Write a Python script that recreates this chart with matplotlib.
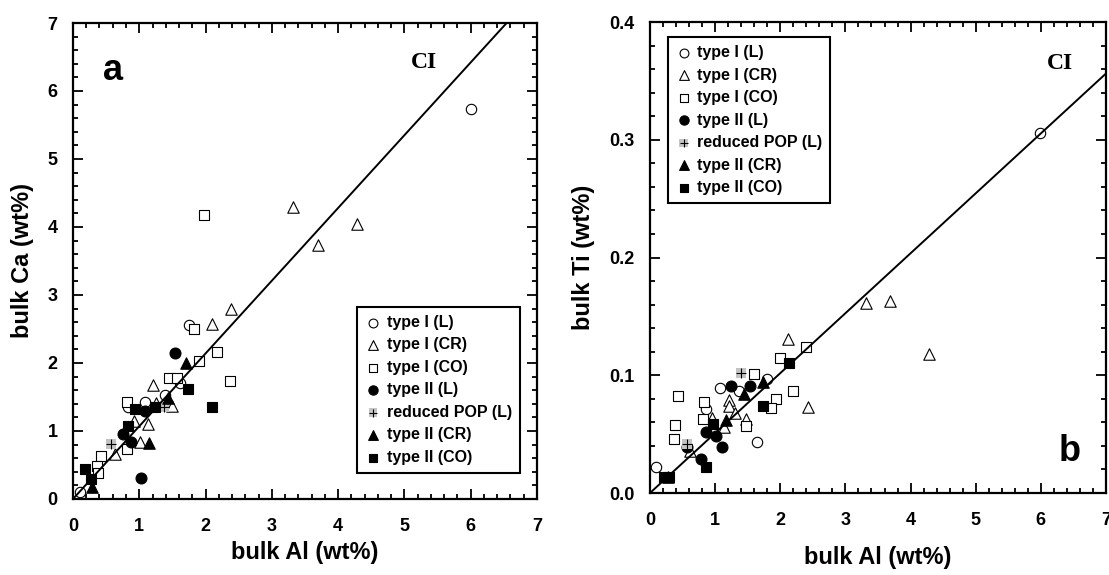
import matplotlib
matplotlib.use("Agg")
import matplotlib.pyplot as plt
import numpy as np
from matplotlib.ticker import MultipleLocator, FormatStrFormatter
from matplotlib.legend_handler import HandlerTuple

# panel a: bulk Ca vs bulk Al (wt%)
a_typeI_L_x = [6.00, 1.75, 1.08, 1.39, 0.10, 0.83, 1.62]
a_typeI_L_y = [5.74, 2.56, 1.43, 1.53, 0.10, 1.35, 1.70]
a_typeI_CR_x = [3.32, 3.70, 4.29, 2.39, 2.10, 1.21, 1.25, 1.49, 1.13, 0.92, 1.01, 0.63]
a_typeI_CR_y = [4.29, 3.74, 4.05, 2.80, 2.57, 1.68, 1.41, 1.37, 1.11, 1.14, 0.84, 0.66]
a_typeI_CO_x = [1.98, 1.83, 2.18, 1.90, 2.37, 1.45, 1.57, 0.82, 0.81, 0.43, 0.37, 0.38]
a_typeI_CO_y = [4.17, 2.50, 2.16, 2.03, 1.73, 1.78, 1.78, 1.42, 0.74, 0.63, 0.49, 0.38]
a_typeII_L_x = [1.54, 1.08, 0.76, 0.88, 1.02]
a_typeII_L_y = [2.14, 1.30, 0.96, 0.84, 0.31]
a_pop_x = [0.57, 1.38]
a_pop_y = [0.81, 1.35]
a_typeII_CR_x = [1.70, 1.44, 1.14, 0.28]
a_typeII_CR_y = [2.00, 1.48, 0.82, 0.17]
a_typeII_CO_x = [1.74, 2.10, 0.93, 1.24, 0.83, 0.18, 0.27]
a_typeII_CO_y = [1.62, 1.35, 1.32, 1.35, 1.07, 0.44, 0.30]

# panel b: bulk Ti vs bulk Al (wt%)
b_typeI_L_x = [5.99, 1.08, 1.37, 1.79, 1.64, 0.10, 0.86]
b_typeI_L_y = [0.306, 0.089, 0.087, 0.097, 0.043, 0.022, 0.071]
b_typeI_CR_x = [3.32, 3.69, 4.28, 2.12, 2.42, 1.22, 1.22, 1.30, 1.14, 1.47, 0.95, 0.62]
b_typeI_CR_y = [0.161, 0.163, 0.118, 0.131, 0.073, 0.079, 0.074, 0.068, 0.056, 0.063, 0.064, 0.036]
b_typeI_CO_x = [2.40, 1.99, 2.19, 1.94, 1.86, 1.59, 1.47, 0.43, 0.83, 0.82, 0.38, 0.37]
b_typeI_CO_y = [0.124, 0.115, 0.087, 0.080, 0.072, 0.101, 0.057, 0.082, 0.077, 0.063, 0.058, 0.046]
b_typeII_L_x = [1.24, 1.54, 0.86, 1.01, 1.10, 0.78, 0.57]
b_typeII_L_y = [0.091, 0.091, 0.052, 0.048, 0.039, 0.029, 0.039]
b_pop_x = [1.39, 0.57]
b_pop_y = [0.102, 0.042]
b_typeII_CR_x = [1.74, 1.44, 1.16, 0.28]
b_typeII_CR_y = [0.094, 0.084, 0.062, 0.014]
b_typeII_CO_x = [2.14, 1.73, 0.96, 0.86, 0.22, 0.29]
b_typeII_CO_y = [0.110, 0.074, 0.059, 0.022, 0.014, 0.014]

# CI chondrite ratios
ci_ca_al = 1.07
ci_ti_al = 0.0509

labels = ["type I (L)", "type I (CR)", "type I (CO)", "type II (L)",
          "reduced POP (L)", "type II (CR)", "type II (CO)"]

plt.rcParams["font.family"] = ["Liberation Sans", "DejaVu Sans"]
plt.rcParams["font.weight"] = "bold"

fig = plt.figure(figsize=(11.09, 5.75), dpi=100)
ax_a = fig.add_axes([0.0658, 0.1322, 0.4184, 0.8278])
ax_b = fig.add_axes([0.5861, 0.1426, 0.4112, 0.8191])


def draw_panel(ax, series, ratio, ymax):
    xs = np.array([0, 7.5])
    ax.plot(xs, ratio * xs, color="black", lw=1.4, zorder=5)
    (ix, iy), (crx, cry), (cox, coy), (lx, ly), (px, py), (c2x, c2y), (o2x, o2y) = series
    h1 = ax.scatter(ix, iy, s=56, marker="o", facecolor="white", edgecolor="black", lw=0.8, zorder=3)
    h2 = ax.scatter(crx, cry, s=68, marker="^", facecolor="white", edgecolor="black", lw=0.8, zorder=3)
    h3 = ax.scatter(cox, coy, s=48, marker="s", facecolor="white", edgecolor="black", lw=0.8, zorder=3)
    h4 = ax.scatter(lx, ly, s=62, marker="o", facecolor="black", edgecolor="black", lw=0.8, zorder=4)
    h5a = ax.scatter(px, py, s=52, marker="s", facecolor="#c4c4c4", edgecolor="none", zorder=4)
    h5b = ax.scatter(px, py, s=42, marker="+", color="black", lw=0.8, zorder=4)
    h6 = ax.scatter(c2x, c2y, s=68, marker="^", facecolor="black", edgecolor="black", lw=0.8, zorder=4)
    h7 = ax.scatter(o2x, o2y, s=52, marker="s", facecolor="black", edgecolor="black", lw=0.8, zorder=4)

    ax.set_xlim(0, 7)
    ax.set_ylim(0, ymax)
    ax.xaxis.set_major_locator(MultipleLocator(1))
    ax.xaxis.set_minor_locator(MultipleLocator(0.2))
    for side in ax.spines.values():
        side.set_linewidth(1.6)
    ax.tick_params(which="both", direction="in", top=True, right=True, width=1.3)
    ax.tick_params(which="major", length=7, labelsize=13)
    ax.tick_params(which="minor", length=3.5)
    ax.tick_params(axis="x", pad=14)
    ax.tick_params(axis="y", pad=11)
    return [h1, h2, h3, h4, (h5a, h5b), h6, h7]


def add_legend(ax, handles, loc, anchor):
    leg = ax.legend(handles, labels, loc=loc, bbox_to_anchor=anchor,
                    borderaxespad=0, fancybox=False, edgecolor="black", framealpha=1,
                    prop={"size": 11.5, "weight": "bold"}, labelspacing=0.47,
                    handletextpad=0.35, handlelength=1.0, borderpad=0.5, markerscale=0.85,
                    handler_map={tuple: HandlerTuple(ndivide=1, pad=0)})
    leg.get_frame().set_linewidth(1.5)
    return leg


ha = draw_panel(ax_a, [(a_typeI_L_x, a_typeI_L_y), (a_typeI_CR_x, a_typeI_CR_y),
                       (a_typeI_CO_x, a_typeI_CO_y), (a_typeII_L_x, a_typeII_L_y),
                       (a_pop_x, a_pop_y), (a_typeII_CR_x, a_typeII_CR_y),
                       (a_typeII_CO_x, a_typeII_CO_y)], ci_ca_al, 7)
ax_a.yaxis.set_major_locator(MultipleLocator(1))
ax_a.yaxis.set_minor_locator(MultipleLocator(0.2))
ax_a.set_xlabel("bulk Al (wt%)", fontsize=17, fontweight="bold", labelpad=4)
ax_a.set_ylabel("bulk Ca (wt%)", fontsize=17, fontweight="bold", labelpad=10)
ax_a.text(0.61, 6.3, "a", fontsize=26, fontweight="bold", ha="center", va="center")
ax_a.text(5.29, 6.42, "CI", fontsize=17, fontweight="bold", family="Liberation Serif",
          ha="center", va="center")
add_legend(ax_a, ha, "lower right", (0.963, 0.055))

hb = draw_panel(ax_b, [(b_typeI_L_x, b_typeI_L_y), (b_typeI_CR_x, b_typeI_CR_y),
                       (b_typeI_CO_x, b_typeI_CO_y), (b_typeII_L_x, b_typeII_L_y),
                       (b_pop_x, b_pop_y), (b_typeII_CR_x, b_typeII_CR_y),
                       (b_typeII_CO_x, b_typeII_CO_y)], ci_ti_al, 0.4)
ax_b.yaxis.set_major_locator(MultipleLocator(0.1))
ax_b.yaxis.set_minor_locator(MultipleLocator(0.02))
ax_b.yaxis.set_major_formatter(FormatStrFormatter("%.1f"))
ax_b.set_xlabel("bulk Al (wt%)", fontsize=17, fontweight="bold", labelpad=12)
ax_b.set_ylabel("bulk Ti (wt%)", fontsize=17, fontweight="bold", labelpad=10)
ax_b.text(6.44, 0.035, "b", fontsize=26, fontweight="bold", ha="center", va="center")
ax_b.text(6.3, 0.365, "CI", fontsize=17, fontweight="bold", family="Liberation Serif",
          ha="center", va="center")
add_legend(ax_b, hb, "upper left", (0.039, 0.968))

fig.savefig("out.png", dpi=100)
